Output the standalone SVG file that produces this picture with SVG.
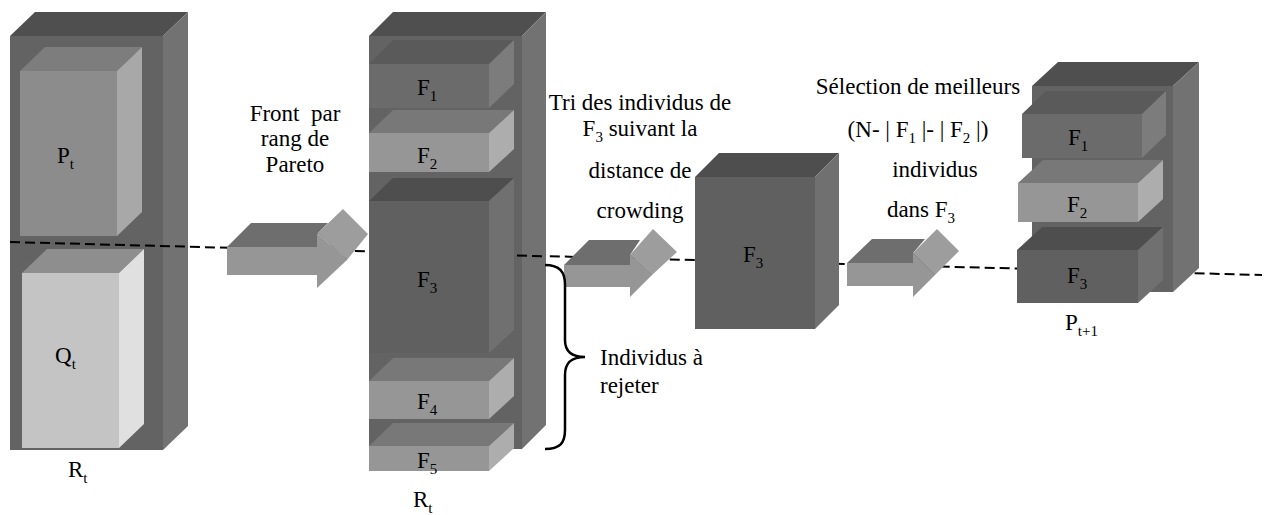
<svg xmlns="http://www.w3.org/2000/svg" width="1266" height="515" viewBox="0 0 1266 515" font-family="'Liberation Serif', 'Times New Roman', Times, serif">
<style>
text{font-size:23px;fill:#000}
.sub{font-size:15px}
.dash{stroke:#000;stroke-width:2;stroke-dasharray:10 5;fill:none}
.dk .f{fill:#606060}.dk .t{fill:#4e4e4e}.dk .s{fill:#707070}
.col .f{fill:#636363}.col .t{fill:#4f4f4f}.col .s{fill:#727272}
.md .f{fill:#6b6b6b}.md .t{fill:#5a5a5a}.md .s{fill:#7c7c7c}
.lt .f{fill:#969696}.lt .t{fill:#787878}.lt .s{fill:#adadad}
.pt .f{fill:#8c8c8c}.pt .t{fill:#7d7d7d}.pt .s{fill:#a8a8a8}
.qt .f{fill:#c4c4c4}.qt .t{fill:#8e8e8e}.qt .s{fill:#e0e0e0}
.arr .f{fill:#969696}.arr .t{fill:#6e6e6e}.arr .h{fill:#9d9d9d}.arr .e{fill:none;stroke:#888;stroke-width:1}
</style>
<g id="connectors">
<line class="dash" x1="10" y1="242" x2="1262" y2="275"/>
</g>
<g id="Rt-left" class="col">
<rect class="f" x="10" y="36" width="153" height="414"/>
<polygon class="t" points="10,36 35,12 188,12 163,36"/>
<polygon class="s" points="163,36 188,12 188,426 163,450"/>
</g>
<g id="Pt" class="pt">
<rect class="f" x="20" y="71" width="97" height="165"/>
<polygon class="t" points="20,71 45,47 142,47 117,71"/>
<polygon class="s" points="117,71 142,47 142,212 117,236"/>
<text x="57" y="163">P<tspan class="sub" dy="6">t</tspan></text>
</g>
<g id="Qt" class="qt">
<rect class="f" x="22" y="273" width="97" height="175"/>
<polygon class="t" points="22,273 47,249 144,249 119,273"/>
<polygon class="s" points="119,273 144,249 144,424 119,448"/>
<text x="55" y="363">Q<tspan class="sub" dy="6">t</tspan></text>
</g>
<line class="dash" x1="10" y1="242" x2="188" y2="246.7"/>
<g id="label-Rt-left"><text x="68" y="477">R<tspan class="sub" dy="6">t</tspan></text></g>

<g id="Rt-mid" class="col">
<rect class="f" x="369" y="36" width="153" height="413"/>
<polygon class="t" points="369,36 393,12 546,12 522,36"/>
<polygon class="s" points="522,36 546,12 546,425 522,449"/>
</g>
<line class="dash" x1="517" y1="255.5" x2="546" y2="256.3"/>
<g id="F1-mid" class="md">
<rect class="f" x="369" y="64" width="120" height="44"/>
<polygon class="t" points="369,64 393,40 514,40 489,64"/>
<polygon class="s" points="489,64 514,40 514,84 489,108"/>
<text x="417" y="95">F<tspan class="sub" dy="6">1</tspan></text>
</g>
<g id="F2-mid" class="lt">
<rect class="f" x="369" y="133" width="120" height="39"/>
<polygon class="t" points="369,133 393,110 514,110 489,133"/>
<polygon class="s" points="489,133 514,110 514,149 489,172"/>
<text x="417" y="163">F<tspan class="sub" dy="6">2</tspan></text>
</g>
<g id="F3-mid" class="dk">
<rect class="f" x="369" y="201" width="120" height="152"/>
<polygon class="t" points="369,201 393,178 514,178 489,201"/>
<polygon class="s" points="489,201 514,178 514,330 489,353"/>
<text x="417" y="287">F<tspan class="sub" dy="6">3</tspan></text>
</g>
<g id="F4-mid" class="lt">
<rect class="f" x="369" y="381" width="120" height="38"/>
<polygon class="t" points="369,381 393,358 514,358 489,381"/>
<polygon class="s" points="489,381 514,358 514,396 489,419"/>
<text x="417" y="409">F<tspan class="sub" dy="6">4</tspan></text>
</g>
<g id="F5-mid" class="lt">
<rect class="f" x="369" y="446" width="120" height="25"/>
<polygon class="t" points="369,446 393,423 514,423 489,446"/>
<polygon class="s" points="489,446 514,423 514,448 489,471"/>
<text x="417" y="468">F<tspan class="sub" dy="6">5</tspan></text>
</g>
<g id="label-Rt-mid"><text x="413" y="507">R<tspan class="sub" dy="6">t</tspan></text></g>

<g id="F3-sorted" class="dk">
<rect class="f" x="695" y="177" width="120" height="152"/>
<polygon class="t" points="695,177 719,153 839,153 815,177"/>
<polygon class="s" points="815,177 839,153 839,305 815,329"/>
<text x="743" y="262">F<tspan class="sub" dy="6">3</tspan></text>
</g>

<g id="Pt1-column" class="col">
<rect class="f" x="1032" y="86" width="141" height="206"/>
<polygon class="t" points="1032,86 1058,62 1199,62 1173,86"/>
<polygon class="s" points="1173,86 1199,62 1199,268 1173,292"/>
</g>
<g id="F1-right" class="md">
<rect class="f" x="1022" y="114" width="120" height="44"/>
<polygon class="t" points="1022,114 1046,91 1166,91 1142,114"/>
<polygon class="s" points="1142,114 1166,91 1166,135 1142,158"/>
<text x="1068" y="145">F<tspan class="sub" dy="6">1</tspan></text>
</g>
<g id="F2-right" class="lt">
<rect class="f" x="1018" y="183" width="120" height="39"/>
<polygon class="t" points="1018,183 1043,160 1163,160 1138,183"/>
<polygon class="s" points="1138,183 1163,160 1163,199 1138,222"/>
<text x="1067" y="212">F<tspan class="sub" dy="6">2</tspan></text>
</g>
<g id="F3-right" class="dk">
<rect class="f" x="1017" y="250" width="121" height="53"/>
<polygon class="t" points="1017,250 1042,227 1163,227 1138,250"/>
<polygon class="s" points="1138,250 1163,227 1163,280 1138,303"/>
<text x="1067" y="283">F<tspan class="sub" dy="6">3</tspan></text>
</g>
<g id="label-Pt1"><text x="1065" y="330">P<tspan class="sub" dy="6">t+1</tspan></text></g>

<g id="arrows" class="arr">
<g id="arrow1">
<polygon class="t" points="227,247 251,223 328,223 318,233 317,247"/>
<rect class="f" x="227" y="247" width="91" height="28"/>
<polygon class="f" points="317,233 347,260 317,288"/>
<polygon class="h" points="318,233 343,209 368,234 347,260"/>
<line class="e" x1="318" y1="233" x2="347" y2="260"/>
</g>
<g id="arrow2" transform="translate(564,265)">
<polygon class="t" points="0,0 25,-25 76,-25 66,-10 66,0"/>
<rect class="f" x="0" y="0" width="67" height="22"/>
<polygon class="f" points="66,-10 88,10 66,32"/>
<polygon class="h" points="66,-10 89,-36 113,-13 88,10"/>
<line class="e" x1="66" y1="-10" x2="88" y2="10"/>
</g>
<g id="arrow3" transform="translate(847,263)">
<polygon class="t" points="0,0 25,-24 78,-24 66,-10 66,0"/>
<rect class="f" x="0" y="0" width="67" height="23"/>
<polygon class="f" points="66,-10 88,12 66,34"/>
<polygon class="h" points="66,-10 90,-34 112,-12 88,12"/>
<line class="e" x1="66" y1="-10" x2="88" y2="12"/>
</g>
</g>
<g id="brace">
<path d="M545,265 C560,265 565,272 565,285 L565,340 C565,352 572,357 585,357 C572,357 565,362 565,375 L565,430 C565,443 560,449 545,449" fill="none" stroke="#000" stroke-width="2.5"/>
</g>

<g id="text-front" text-anchor="middle">
<text x="295" y="121">Front&#160; par</text>
<text x="295" y="146">rang de</text>
<text x="295" y="172">Pareto</text>
</g>
<g id="text-tri" text-anchor="middle">
<text x="640" y="110">Tri des individus de</text>
<text x="640" y="136">F<tspan class="sub" dy="6">3</tspan><tspan dy="-6"> suivant la</tspan></text>
<text x="640" y="178">distance de</text>
<text x="640" y="218">crowding</text>
</g>
<g id="text-selection" text-anchor="middle">
<text x="918" y="94">Sélection de meilleurs</text>
<text x="918" y="137">(N- | F<tspan class="sub" dy="6">1</tspan><tspan dy="-6"> |- | F</tspan><tspan class="sub" dy="6">2</tspan><tspan dy="-6"> |)</tspan></text>
<text x="935" y="177">individus</text>
<text x="921" y="217">dans F<tspan class="sub" dy="6">3</tspan></text>
</g>
<g id="text-rejet">
<text x="600" y="365">Individus à</text>
<text x="600" y="393">rejeter</text>
</g>
</svg>
